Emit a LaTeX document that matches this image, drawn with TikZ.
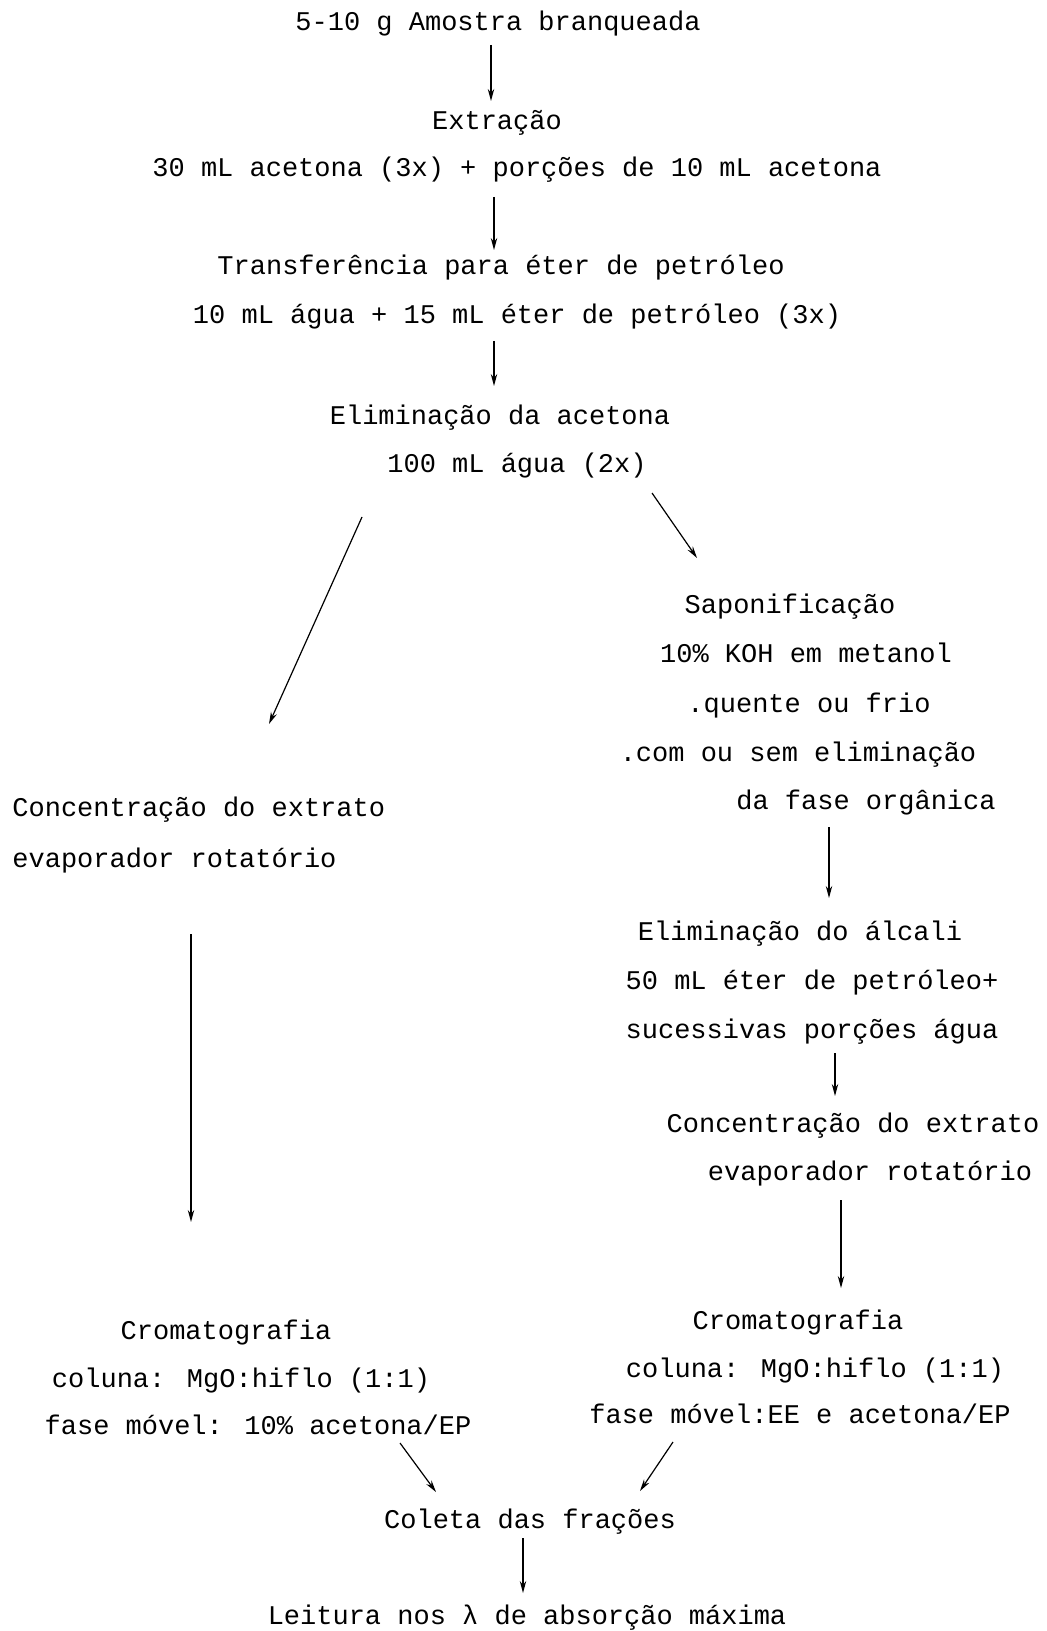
\documentclass[tikz,border=0pt]{standalone}
\usepackage{fontspec}
\setmainfont{Liberation Mono}
\usetikzlibrary{arrows.meta}
\begin{document}
\begin{tikzpicture}[x=0.5pt,y=-0.5pt,
  lbl/.style={inner sep=0pt,anchor=base,font=\fontsize{13.5pt}{16pt}\selectfont},
  lblw/.style={lbl,anchor=base west},
  arr/.style={line width=0.6pt,-{Stealth[length=6pt,width=3.2pt]}}]
\useasboundingbox (0,0) rectangle (1047,1631);
% texts (base = visual centre + 7)
\node[lbl] (t1) at (498,31) {5-10 g Amostra branqueada};
\node[lbl] (t2) at (497,130) {Extração};
\node[lbl] (t3) at (517,177) {30 mL acetona (3x) + porções de 10 mL acetona};
\node[lbl] (t4) at (501,275) {Transferência para éter de petróleo};
\node[lbl] (t5) at (517,324) {10 mL água + 15 mL éter de petróleo (3x)};
\node[lbl] (t6) at (500,424) {Eliminação da acetona};
\node[lbl] (t7) at (517,472) {100 mL água (2x)};
% right branch
\node[lbl] (r1) at (790,613) {Saponificação};
\node[lbl] (r2) at (806,662) {10\% KOH em metanol};
\node[lbl] (r3) at (809,712) {.quente ou frio};
\node[lbl] (r4) at (798,761) {.com ou sem eliminação};
\node[lbl] (r5) at (866,809) {da fase orgânica};
\node[lbl] (r6) at (800,940) {Eliminação do álcali};
\node[lbl] (r7) at (812,989) {50 mL éter de petróleo+};
\node[lbl] (r8) at (812,1038) {sucessivas porções água};
\node[lbl] (r9) at (853,1132) {Concentração do extrato};
\node[lbl] (r10) at (870,1180) {evaporador rotatório};
\node[lbl] (r11) at (798,1329) {Cromatografia};
\node[lbl] (r12) at (815,1377) {coluna: MgO:hiflo (1:1)};
\node[lbl] (r13) at (800,1423) {fase móvel:EE e acetona/EP};
% left branch
\node[lblw] (l1) at (12,816) {Concentração do extrato};
\node[lblw] (l2) at (12,867) {evaporador rotatório};
\node[lbl] (l3) at (226,1339) {Cromatografia};
\node[lbl] (l4) at (241,1387) {coluna: MgO:hiflo (1:1)};
\node[lbl] (l5) at (258,1434) {fase móvel: 10\% acetona/EP};
% bottom
\node[lbl] (b1) at (530,1528) {Coleta das frações};
\node[lbl] (b2) at (527,1624) {Leitura nos λ de absorção máxima};
% connector end points
\coordinate (a1s) at (491,45);   \coordinate (a1e) at (491,101);
\coordinate (a2s) at (494,197);  \coordinate (a2e) at (494,250);
\coordinate (a3s) at (494,341);  \coordinate (a3e) at (494,386);
\coordinate (dls) at (362,517);  \coordinate (dle) at (269,724);
\coordinate (drs) at (652,493);  \coordinate (dre) at (697,558);
\coordinate (r1s) at (829,827);  \coordinate (r1e) at (829,898);
\coordinate (r2s) at (835,1053); \coordinate (r2e) at (835,1096);
\coordinate (r3s) at (841,1200); \coordinate (r3e) at (841,1288);
\coordinate (l1s) at (191,934);  \coordinate (l1e) at (191,1222);
\coordinate (cls) at (400,1443); \coordinate (cle) at (436,1492);
\coordinate (crs) at (673,1442); \coordinate (cre) at (640,1491);
\coordinate (bs) at (523,1538);  \coordinate (be) at (523,1593);
% connectors
\draw[arr] (a1s) -- (a1e);
\draw[arr] (a2s) -- (a2e);
\draw[arr] (a3s) -- (a3e);
\draw[arr] (dls) -- (dle);
\draw[arr] (drs) -- (dre);
\draw[arr] (r1s) -- (r1e);
\draw[arr] (r2s) -- (r2e);
\draw[arr] (r3s) -- (r3e);
\draw[arr] (l1s) -- (l1e);
\draw[arr] (cls) -- (cle);
\draw[arr] (crs) -- (cre);
\draw[arr] (bs) -- (be);
\end{tikzpicture}
\end{document}
